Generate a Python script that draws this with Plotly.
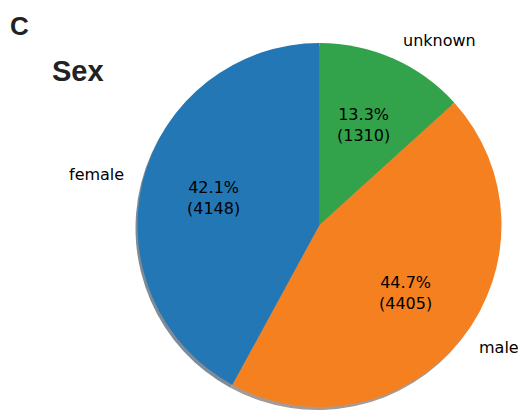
import math
import plotly.graph_objects as go

# Data
# ----------------------------------------------------------------------------
labels = ["female", "male", "unknown"]
counts = [4148, 4405, 1310]
colors = ["#2377b4", "#f58020", "#33a34b"]
shadow_colors = ["#7f8b97", "#a69a92", "#84948a"]

W, H = 518, 410
cx, cy, r = 319.5, 225, 182  # pie centre / radius in pixels

def dom(x0, y0):
    return dict(x=[max(0, (x0 - r) / W), min(1, (x0 + r) / W)],
                y=[max(0, (H - y0 - r) / H), min(1, (H - y0 + r) / H)])

# matplotlib draws counterclockwise from 12 o'clock; plotly's counterclockwise
# mode behaves differently, so feed the slices reversed and go clockwise
rev = slice(None, None, -1)

fig = go.Figure()

# shadow underneath
fig.add_trace(go.Pie(
    labels=labels[rev], values=counts[rev], sort=False, direction="clockwise",
    marker=dict(colors=shadow_colors[rev], line=dict(width=0)),
    textinfo="none", hoverinfo="skip", showlegend=False,
    domain=dom(cx - 2, cy + 3)
))

fig.add_trace(go.Pie(
    labels=labels[rev], values=counts[rev], sort=False, direction="clockwise",
    marker=dict(colors=colors[rev], line=dict(width=0)),
    textinfo="none", showlegend=False,
    domain=dom(cx, cy)
))

# labels like matplotlib (labeldistance 1.1, pctdistance 0.6)
total = sum(counts)
annotations = []
start = 90.0
for lab, n in zip(labels, counts):
    span = n / total * 360
    mid = math.radians(start + span / 2)
    start += span
    ca, sa = math.cos(mid), math.sin(mid)
    lx, ly = cx + 1.1 * r * ca, cy - 1.1 * r * sa
    annotations.append(dict(
        x=lx / W, y=1 - (ly - 1.5) / H, xref="paper", yref="paper", text=lab,
        showarrow=False, xanchor="right" if ca < 0 else "left", yanchor="middle",
        font=dict(family="DejaVu Sans", size=16, color="#000000")
    ))
    px_, py_ = cx + 0.6 * r * ca, cy - 0.6 * r * sa
    annotations.append(dict(
        x=px_ / W, y=1 - py_ / H, xref="paper", yref="paper",
        text="%.1f%%<br>(%d)" % (n / total * 100, n),
        showarrow=False, xanchor="center", yanchor="middle",
        font=dict(family="DejaVu Sans", size=16, color="#000000")
    ))

annotations.append(dict(
    x=78 / W, y=1 - 71 / H, xref="paper", yref="paper", text="<b>Sex</b>",
    showarrow=False, xanchor="center", yanchor="middle",
    font=dict(family="Liberation Sans", size=29, color="#222222")
))
annotations.append(dict(
    x=8 / W, y=1 - 26 / H, xref="paper", yref="paper", text="<b>C</b>",
    showarrow=False, xanchor="left", yanchor="middle",
    font=dict(family="Liberation Sans", size=26, color="#222222")
))

fig.update_layout(
    width=W, height=H,
    margin=dict(l=0, r=0, t=0, b=0),
    paper_bgcolor="white",
    plot_bgcolor="white",
    annotations=annotations
)

# drop the default body margin so the figure fills the window
fig.write_html("out.html", config={"displayModeBar": False},
               post_script="document.body.style.margin='0';")
